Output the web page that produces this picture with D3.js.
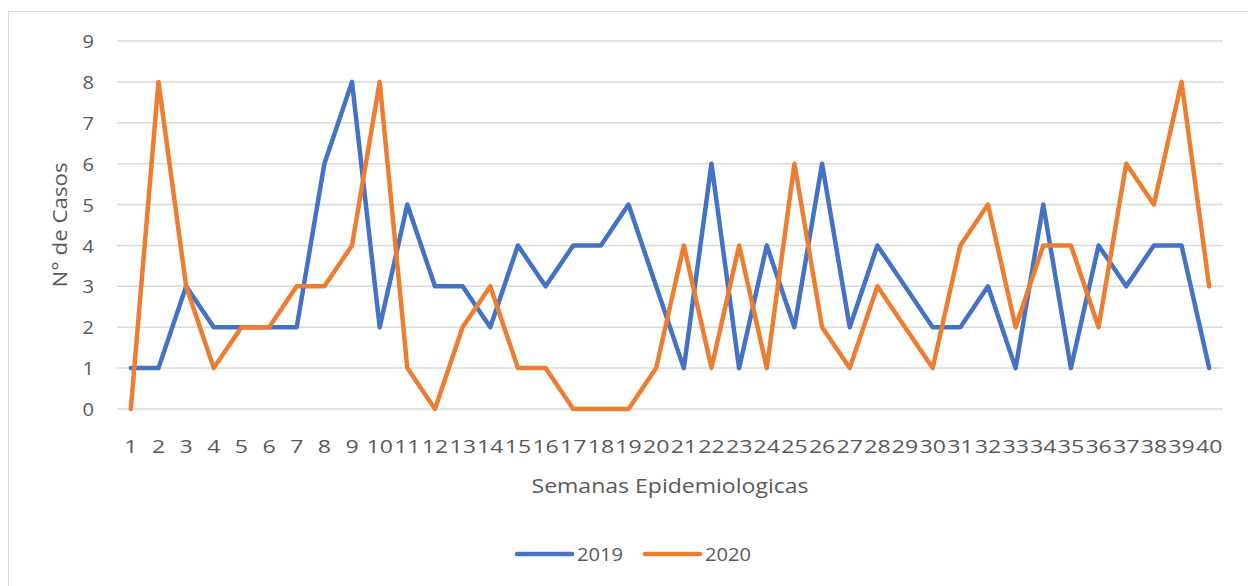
<!DOCTYPE html>
<html><head><meta charset="utf-8">
<script src="https://cdn.jsdelivr.net/npm/d3@7"></script>
<style>body{margin:0;background:#fff;} text{font-family:"Open Sans","Liberation Sans",sans-serif;fill:#595959;}</style>
</head><body>
<svg id="c" width="1248" height="586"></svg>
<script>
const weeks = d3.range(1, 41).map(String);
const s2019 = [1,1,3,2,2,2,2,6,8,2,5,3,3,2,4,3,4,4,5,3,1,6,1,4,2,6,2,4,3,2,2,3,1,5,1,4,3,4,4,1];
const s2020 = [0,8,3,1,2,2,3,3,4,8,1,0,2,3,1,1,0,0,0,1,4,1,4,1,6,2,1,3,2,1,4,5,2,4,4,2,6,5,8,3];
const yTicks = [0,1,2,3,4,5,6,7,8,9];
const seriesNames = ["2019","2020"];
const colors = ["#4472C4","#ED7D31"];

const svg = d3.select("#c");
svg.append("rect").attr("x",8.5).attr("y",11.5).attr("width",1260).attr("height",600)
  .attr("fill","#fff").attr("stroke","#d9d9d9").attr("stroke-width",1);

const x = d3.scaleBand().domain(weeks).range([117,1223]);
const y = d3.scaleLinear().domain([0,9]).range([409,41]);
const digitW = 13.2;

// gridlines
svg.append("g").selectAll("line").data(yTicks).join("line")
  .attr("x1",117).attr("x2",1223).attr("y1",d=>y(d)).attr("y2",d=>y(d))
  .attr("stroke","#d9d9d9").attr("stroke-width",1.5);

// y axis labels
const yAxis = d3.axisLeft(y).tickValues(yTicks).tickSize(0).tickPadding(0);
const gy = svg.append("g").attr("transform","translate(94,0)").call(yAxis);
gy.select(".domain").remove();
gy.selectAll("text").attr("font-size",19).attr("dy","0.35em").style("fill","#595959")
  .attr("textLength",11.5).attr("lengthAdjust","spacingAndGlyphs");

// x axis labels
const xAxis = d3.axisBottom(x).tickSize(0).tickPadding(0);
const gx = svg.append("g").attr("transform","translate(0,439)").call(xAxis);
gx.select(".domain").remove();
gx.selectAll("text").attr("font-size",19).attr("dy","0.71em").style("fill","#595959")
  .attr("textLength",d=>d.length*digitW).attr("lengthAdjust","spacingAndGlyphs");

// axis titles
svg.append("text").attr("x",670).attr("y",493).attr("text-anchor","middle")
  .attr("font-size",20).attr("textLength",277).attr("lengthAdjust","spacingAndGlyphs")
  .text("Semanas Epidemiologicas");
svg.append("text").attr("transform","translate(67,225) rotate(-90)").attr("text-anchor","middle")
  .attr("font-size",20).attr("textLength",125).attr("lengthAdjust","spacingAndGlyphs")
  .text("N° de Casos");

// lines
const line = d3.line().x((d,i)=>x(weeks[i])+x.bandwidth()/2).y(d=>y(d));
[s2019,s2020].forEach((s,k)=>{
  svg.append("path").datum(s).attr("d",line).attr("fill","none")
    .attr("stroke",colors[k]).attr("stroke-width",4.5)
    .attr("stroke-linejoin","round").attr("stroke-linecap","round");
});

// legend
const lx = [517,645];
seriesNames.forEach((n,k)=>{
  svg.append("line").attr("x1",lx[k]).attr("x2",lx[k]+55).attr("y1",554).attr("y2",554)
    .attr("stroke",colors[k]).attr("stroke-width",4.5).attr("stroke-linecap","round");
  svg.append("text").attr("x",lx[k]+60).attr("y",554).attr("dy","0.35em")
    .attr("font-size",19).attr("textLength",46).attr("lengthAdjust","spacingAndGlyphs").text(n);
});
</script>
</body></html>
